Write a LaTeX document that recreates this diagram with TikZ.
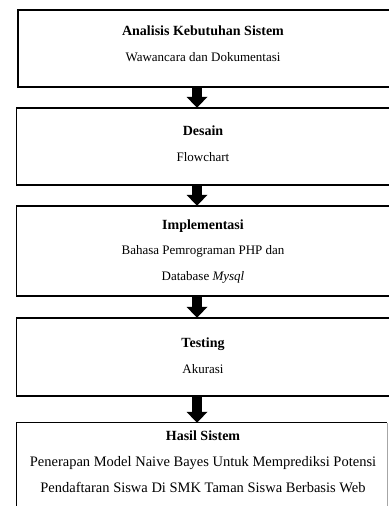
\documentclass[tikz,border=0pt]{standalone}
\usepackage{fontspec}
\setmainfont{Liberation Serif}
\usetikzlibrary{arrows.meta}
\tikzset{
  stage/.style={inner sep=0pt,minimum width=380bp},
  frame/.style={line width=1.6bp},
  caption/.style={align=center,font=\fontsize{13bp}{25.5bp}\selectfont},
  flow/.style={line width=10bp,-{Triangle[width=21bp,length=11bp,line width=0pt]}},
}
\newcommand{\heading}[1]{{\bfseries\fontsize{14bp}{25.5bp}\selectfont #1}}
\begin{document}
\begin{tikzpicture}[line join=miter]
\useasboundingbox (0bp,0bp) rectangle (389bp,506bp);
\clip (0bp,0bp) rectangle (389bp,506bp);
%%
\node (box_1) at (208bp,457.5bp) [stage,minimum height=77bp] {};
  \node (box_2) at (206.5bp,359.5bp) [stage,minimum height=77bp] {};
  \node (box_3) at (206.5bp,255bp) [stage,minimum height=90bp] {};
  \node (box_4) at (206.5bp,149bp) [stage,minimum height=78bp] {};
  \node (box_5) at (201.75bp,37bp) [inner sep=0pt,minimum width=370.5bp,minimum height=92bp] {};
  \foreach \b in {box_1,box_2,box_3,box_4}
    \draw [frame] (\b.north east) -- (\b.north west) -- (\b.south west) -- (\b.south east);
  \draw [line width=1bp] (box_5.south west) -- (box_5.north west) -- (box_5.north east);
  \draw [line width=1bp,black!35] (box_5.north east) -- (box_5.south east);
%
\node (text_1) at (203bp,462.5bp) [caption] {\heading{Analisis Kebutuhan Sistem}\\Wawancara dan Dokumentasi};
  \node (text_2) at (203bp,362.5bp) [caption] {\heading{Desain}\\Flowchart};
  \node (text_3) at (203bp,254.5bp) [caption] {\heading{Implementasi}\\Bahasa Pemrograman PHP dan\\Database \textit{Mysql}};
  \node (text_4) at (203bp,150.5bp) [caption] {\heading{Testing}\\Akurasi};
  \node (text_5) at (203bp,44bp) [caption,font=\fontsize{14.5bp}{26bp}\selectfont] {\heading{Hasil Sistem}\\Penerapan Model Naive Bayes Untuk Memprediksi Potensi\\Pendaftaran Siswa Di SMK Taman Siswa Berbasis Web};
%
\coordinate (axis) at (197bp,0bp);
  \draw [flow] (box_1.south -| axis) -- (box_2.north -| axis);
  \draw [flow] (box_2.south -| axis) -- (box_3.north -| axis);
  \draw [flow] (box_3.south -| axis) -- (box_4.north -| axis);
  \draw [flow] (box_4.south -| axis) -- (box_5.north -| axis);
%
\end{tikzpicture}
\end{document}
